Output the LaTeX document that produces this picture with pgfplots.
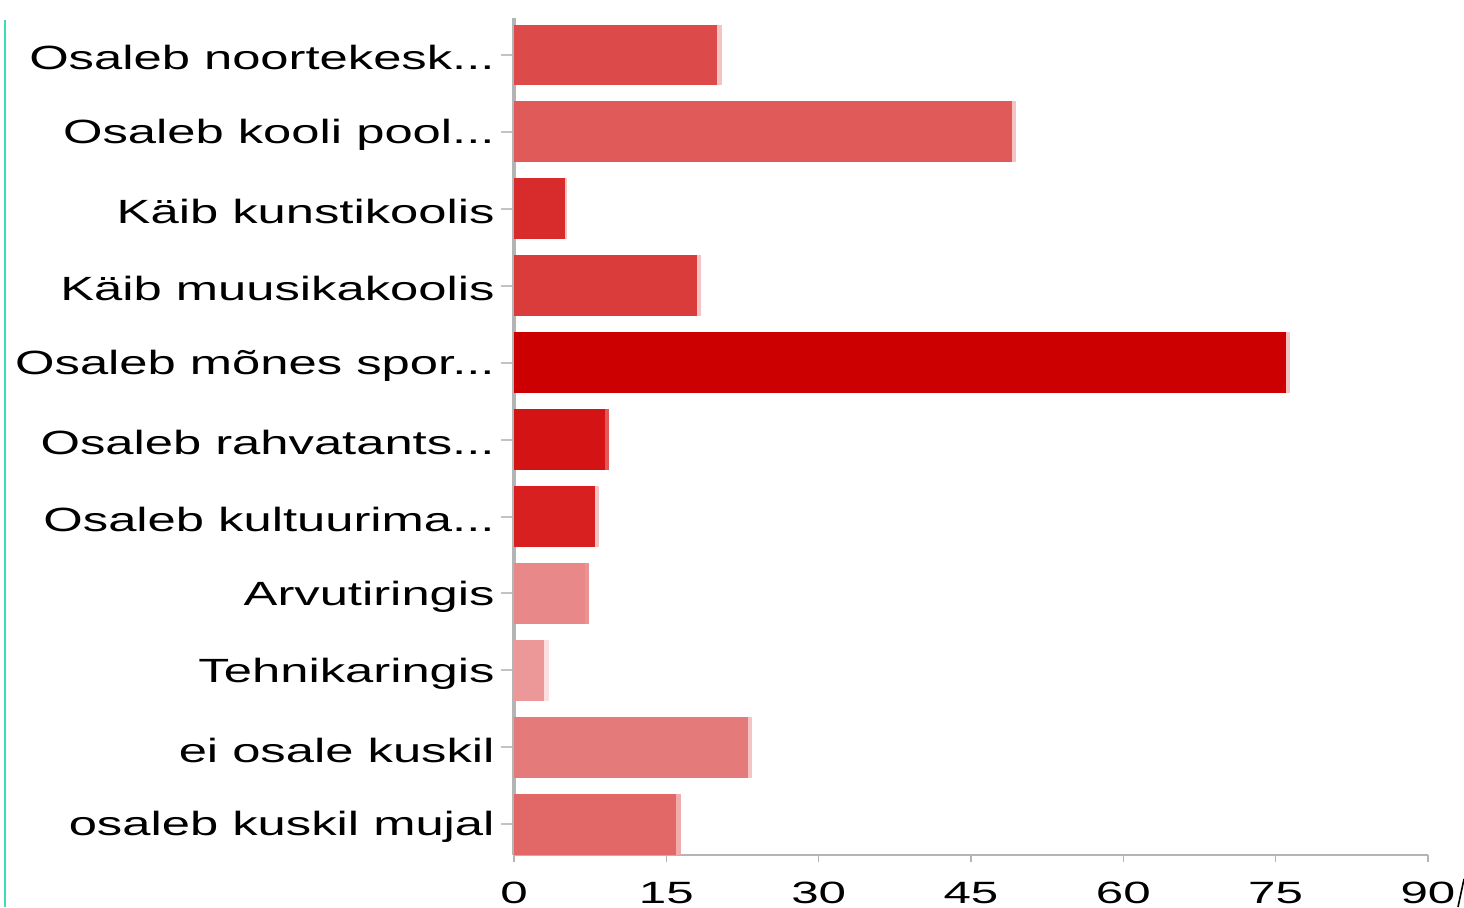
\documentclass[border=0pt]{standalone}
\usepackage{fontspec}
\setmainfont{Liberation Sans}
\usepackage{pgfplots}
\pgfplotsset{compat=1.18}

% bar colours
\definecolor{c1}{RGB}{220,74,74}
\definecolor{c2}{RGB}{224,90,90}
\definecolor{c3}{RGB}{216,44,44}
\definecolor{c4}{RGB}{218,60,60}
\definecolor{c5}{RGB}{204,0,0}
\definecolor{c6}{RGB}{212,20,20}
\definecolor{c7}{RGB}{216,32,32}
\definecolor{c8}{RGB}{232,136,136}
\definecolor{c9}{RGB}{236,152,152}
\definecolor{c10}{RGB}{229,122,122}
\definecolor{c11}{RGB}{226,104,104}
\definecolor{edge}{RGB}{244,196,196}
\definecolor{axisgray}{RGB}{180,180,180}
\definecolor{teal1}{RGB}{60,220,180}

\newcommand{\wl}[1]{\scalebox{1.51}[1]{#1}}

\begin{document}
\begin{tikzpicture}
\begin{axis}[
    at={(257pt,26pt)}, anchor=south west,
    scale only axis,
    width=457pt, height=418.5pt,
    xbar, bar shift=0pt, bar width=0.79,
    xmin=0, xmax=90,
    ymin=-0.48, ymax=10.4,
    y dir=reverse,
    xtick={0,15,...,90},
    ytick={0,...,10},
    yticklabels={\wl{Osaleb noortekesk...},\wl{Osaleb kooli pool...},\wl{Käib kunstikoolis},\wl{Käib muusikakoolis},\wl{Osaleb mõnes spor...},\wl{Osaleb rahvatants...},\wl{Osaleb kultuurima...},\wl{Arvutiringis},\wl{Tehnikaringis},\wl{ei osale kuskil},\wl{osaleb kuskil mujal}},
    xticklabel={\scalebox{1.6}[1]{\pgfmathprintnumber{\tick}}},
    axis x line*=bottom, axis y line*=left,
    x axis line style={axisgray, line width=1pt, -},
    y axis line style={axisgray, line width=2pt, -},
    tick align=outside,
    xtick style={axisgray, line width=0.6pt},
    ytick style={axisgray!80, line width=1pt},
    major tick length=6.5pt,
    x tick style={/pgfplots/major tick length=3.5pt},
    yticklabel style={font=\fontsize{16.8}{20}\selectfont, inner sep=0pt, anchor=east, xshift=-3pt, yshift=-1.5pt},
    xticklabel style={font=\fontsize{15.4}{18}\selectfont, inner sep=0pt, anchor=north, yshift=-7pt},
    /pgf/number format/assume math mode=true,
    clip=false,
]
% light end strips
\addplot[draw=none, fill=edge] coordinates {(20.45,0)};
\addplot[draw=none, fill=edge] coordinates {(49.45,1)};
\addplot[draw=none, fill=edge] coordinates {(5.2,2)};
\addplot[draw=none, fill=edge] coordinates {(18.45,3)};
\addplot[draw=none, fill=edge] coordinates {(76.45,4)};
\addplot[draw=none, fill={rgb,255:red,226;green,88;blue,88}] coordinates {(9.4,5)};
\addplot[draw=none, fill=edge] coordinates {(8.4,6)};
\addplot[draw=none, fill={rgb,255:red,236;green,148;blue,148}] coordinates {(7.4,7)};
\addplot[draw=none, fill={rgb,255:red,252;green,224;blue,224}] coordinates {(3.4,8)};
\addplot[draw=none, fill=edge] coordinates {(23.45,9)};
\addplot[draw=none, fill={rgb,255:red,240;green,172;blue,172}] coordinates {(16.45,10)};
% bars
\addplot[draw=none, fill=c1] coordinates {(20,0)};
\addplot[draw=none, fill=c2] coordinates {(49,1)};
\addplot[draw=none, fill=c3] coordinates {(5,2)};
\addplot[draw=none, fill=c4] coordinates {(18,3)};
\addplot[draw=none, fill=c5] coordinates {(76,4)};
\addplot[draw=none, fill=c6] coordinates {(9,5)};
\addplot[draw=none, fill=c7] coordinates {(8,6)};
\addplot[draw=none, fill=c8] coordinates {(7,7)};
\addplot[draw=none, fill=c9] coordinates {(3,8)};
\addplot[draw=none, fill=c10] coordinates {(23,9)};
\addplot[draw=none, fill=c11] coordinates {(16,10)};
\end{axis}
\draw[teal1, line width=1pt] (2.5pt,0pt) -- (2.5pt,443.5pt);
\draw[black, line width=0.8pt] (729pt,0pt) -- (732pt,14pt);
\pgfresetboundingbox
\path (0pt,0pt) rectangle (732pt,453.5pt);
\end{tikzpicture}
\end{document}
